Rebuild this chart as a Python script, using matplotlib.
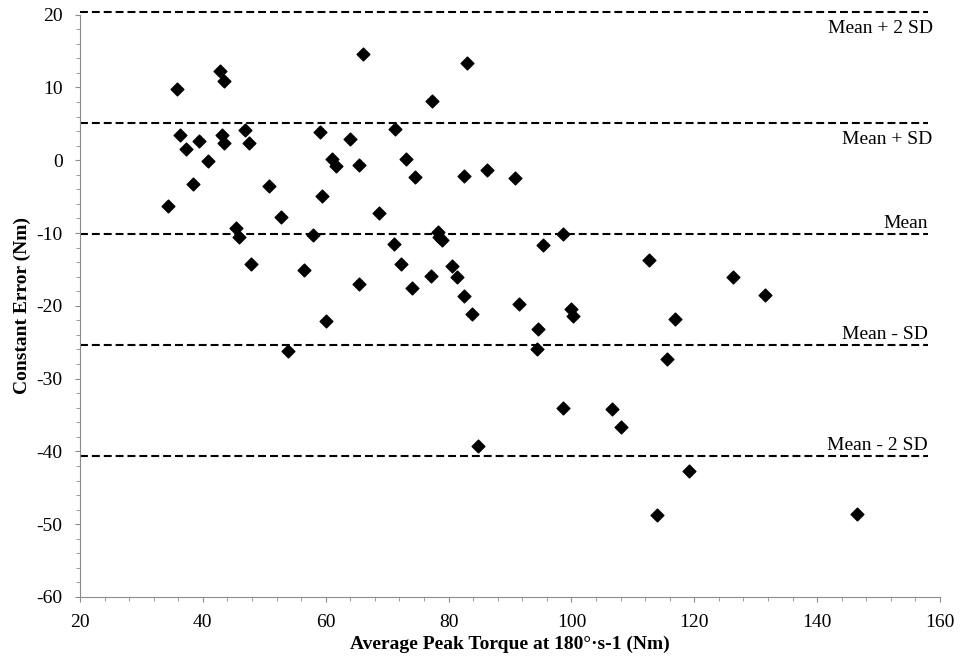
import matplotlib.pyplot as plt
from matplotlib.ticker import MultipleLocator

# valores
torque = [34.3, 35.8, 36.3, 37.3, 38.4, 39.4, 40.8, 42.75, 43.5, 43.2, 43.5,
          45.4, 45.95, 46.8, 47.5, 47.9, 50.7, 52.7, 56.4, 58.0, 59.1, 59.4,
          60.0, 61.0, 61.6, 63.9, 65.5, 65.4, 66.1, 68.75, 71.1, 71.2, 72.3,
          73.1, 74.1, 74.5, 77.1, 77.3, 78.25, 78.5, 78.85, 80.5, 81.4, 82.5,
          83.8, 82.5, 83.0, 53.9, 84.8, 86.2, 90.8, 98.7, 95.4, 112.7, 126.3,
          131.5, 91.4, 99.9, 100.3, 94.5, 116.8, 94.4, 115.6, 98.55, 106.6,
          108.05, 119.1, 114.0, 146.5]
erro = [-6.3, 9.8, 3.4, 1.6, -3.3, 2.6, -0.1, 12.3, 10.85, 3.5, 2.4,
        -9.25, -10.5, 4.2, 2.3, -14.3, -3.5, -7.8, -15.15, -10.3, 3.9, -4.95,
        -22.1, 0.23, -0.8, 2.9, -0.7, -17.0, 14.6, -7.2, -11.5, 4.35, -14.3,
        0.23, -17.6, -2.3, -15.9, 8.2, -9.85, -10.6, -11.0, -14.5, -16.0, -18.6,
        -21.1, -2.2, 13.4, -26.2, -39.3, -1.3, -2.5, -10.2, -11.6, -13.7, -16.1,
        -18.45, -19.8, -20.5, -21.4, -23.2, -21.8, -25.9, -27.3, -34.0, -34.2,
        -36.6, -42.7, -48.8, -48.6]

media = -10.1
dp = 15.25
linhas = ['Mean + 2 SD', 'Mean + SD', 'Mean', 'Mean - SD', 'Mean - 2 SD']
multiplos = [2, 1, 0, -1, -2]
acima = [False, False, True, True, True]

plt.rcParams['font.family'] = 'Liberation Serif'
plt.rcParams['font.size'] = 14
plt.rcParams['axes.unicode_minus'] = False

fig = plt.figure(figsize=(9.61, 6.65), dpi=100)
ax = fig.add_axes([0.0832, 0.1023, 0.8950, 0.8757])

ax.scatter(torque, erro, marker='D', s=42, color='black', zorder=3)

for nome, k, em_cima in zip(linhas, multiplos, acima):
    y = media + k * dp
    ax.plot([20, 158], [y, y], color='black', lw=1.5, dashes=(3.8, 1.9), clip_on=False)
    if em_cima:
        ax.text(158, y + 0.2, nome, ha='right', va='bottom', fontsize=14)
    else:
        ax.text(158.8, y - 1.2, nome, ha='right', va='top', fontsize=14)

ax.set_xlim(20, 160)
ax.set_ylim(-60, 20)
ax.xaxis.set_major_locator(MultipleLocator(20))
ax.xaxis.set_minor_locator(MultipleLocator(4))
ax.yaxis.set_major_locator(MultipleLocator(10))
ax.yaxis.set_minor_locator(MultipleLocator(2))

for lado in ['top', 'right']:
    ax.spines[lado].set_visible(False)
for lado in ['left', 'bottom']:
    ax.spines[lado].set_color('#8c8c8c')
ax.tick_params(which='both', direction='out', color='#8c8c8c', labelsize=14)
ax.tick_params(which='major', length=3.5)
ax.tick_params(which='minor', length=3)
ax.tick_params(axis='y', which='major', pad=9)
ax.tick_params(axis='x', which='major', pad=9)

ax.set_xlabel('Average Peak Torque at 180°·s-1 (Nm)', fontweight='bold', fontsize=14, labelpad=3)
ax.set_ylabel('Constant Error (Nm)', fontweight='bold', fontsize=14, labelpad=4)

plt.savefig('out.png', dpi=100)
